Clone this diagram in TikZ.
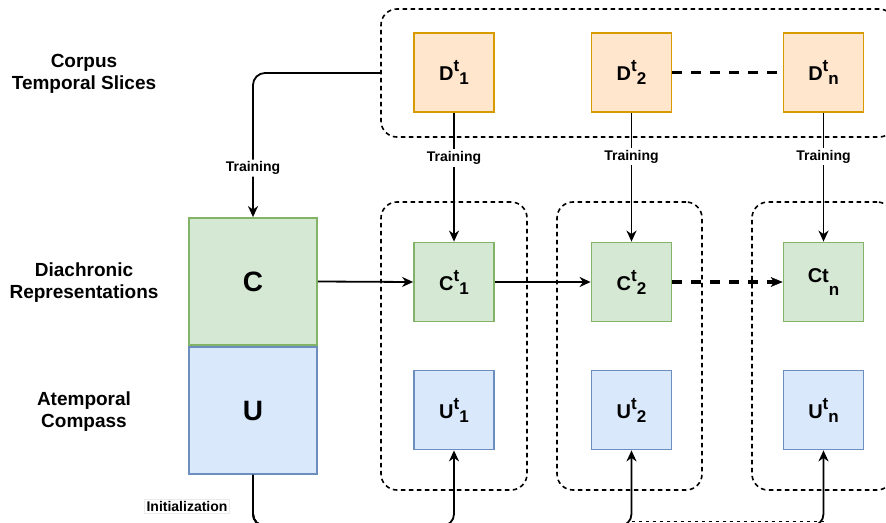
\documentclass[tikz,border=0pt]{standalone}
\usepackage{fontspec}
\setmainfont{Liberation Sans}
\usetikzlibrary{arrows.meta}
\definecolor{dfill}{HTML}{FFE6CC}
\definecolor{ddraw}{HTML}{D79B00}
\definecolor{cfill}{HTML}{D5E8D4}
\definecolor{cdraw}{HTML}{82B366}
\definecolor{ufill}{HTML}{DAE8FC}
\definecolor{udraw}{HTML}{6C8EBF}
\newcommand\mysupsub[3]{#1\raisebox{9pt}{\fontsize{17}{17}\selectfont #2}\raisebox{-4pt}{\fontsize{17}{17}\selectfont #3}}
\newcommand\mydropsub[3]{#1#2\raisebox{-13pt}{\fontsize{17}{17}\selectfont #3}}
\tikzset{
  box/.style={draw, line width=1.8pt, minimum width=80pt, minimum height=79pt, inner sep=0pt,
    font=\fontsize{20}{20}\selectfont\bfseries},
  dbox/.style={box, fill=dfill, draw=ddraw},
  cbox/.style={box, fill=cfill, draw=cdraw},
  ubox/.style={box, fill=ufill, draw=udraw},
  bigbox/.style={draw, line width=1.8pt, minimum width=128pt, minimum height=127pt, inner sep=0pt,
    font=\fontsize{28}{28}\selectfont\bfseries},
  grp/.style={draw, line width=1.6pt, dash pattern=on 4.5pt off 3.5pt, rounded corners=16pt, inner sep=0pt},
  conn/.style={line width=1.8pt, -{Stealth[length=11pt,width=10pt,inset=3.5pt]}},
  thickdash/.style={line width=3.2pt, dash pattern=on 10pt off 9pt},
  lbl/.style={fill=white, inner sep=2pt, font=\fontsize{14}{16}\selectfont\bfseries},
  side/.style={align=center, font=\fontsize{19}{22}\selectfont\bfseries},
}
\begin{document}
\begin{tikzpicture}[x=1pt,y=-1pt]
\useasboundingbox (0,0) rectangle (886,522);
\clip (0,0) rectangle (886,522);

% side labels
\node[side] (lcorpus) at (84,74) {Corpus\\Temporal Slices};
\node[side] (ldia) at (84,283) {Diachronic\\Representations};
\node[side] (latem) at (84,411.5) {Atemporal\\Compass};

% groups
\node[grp, minimum width=514pt, minimum height=128pt] (top) at (638,73) {};
\node[grp, minimum width=146pt, minimum height=288pt] (g1) at (454,346) {};
\node[grp, minimum width=145pt, minimum height=288pt] (g2) at (629.5,346) {};
\node[grp, minimum width=141pt, minimum height=288pt] (g3) at (822.5,346) {};

% compass
\node[bigbox, fill=cfill, draw=cdraw] (C) at (253,281.5) {C};
\node[bigbox, fill=ufill, draw=udraw] (U) at (253,410.5) {U};

% slices
\node[dbox] (D1) at (454,72.5) {\mysupsub{D}{t}{1}};
\node[dbox] (D2) at (631.5,72.5) {\mysupsub{D}{t}{2}};
\node[dbox] (Dn) at (823.5,72.5) {\mysupsub{D}{t}{n}};

\node[cbox] (C1) at (454,282) {\mysupsub{C}{t}{1}};
\node[cbox] (C2) at (631.5,282) {\mysupsub{C}{t}{2}};
\node[cbox] (Cn) at (823.5,282) {\mydropsub{C}{t}{n}};

\node[ubox] (U1) at (454,410) {\mysupsub{U}{t}{1}};
\node[ubox] (U2) at (631.5,410) {\mysupsub{U}{t}{2}};
\node[ubox] (Un) at (823.5,410) {\mysupsub{U}{t}{n}};

% training connectors
\draw[conn, rounded corners=12pt] (top.west) -| (C.north) node[lbl, pos=0.83] {Training};
\draw[conn] (D1.south) -- (C1.north) node[lbl, pos=0.35] {Training};
\draw[conn] (D2.south) -- (C2.north) node[lbl, pos=0.34] {Training};
\draw[conn] (Dn.south) -- (Cn.north) node[lbl, pos=0.34] {Training};

% slice chain
\draw[thickdash] (D2.east) -- (Dn.west);

% diachronic chain
\draw[conn] (C.east) -- (C1.west);
\draw[conn] (C1.east) -- (C2.west);
\draw[thickdash, -{Stealth[length=12pt,width=10pt,inset=3.5pt,line width=0.5pt]}] (C2.east) -- (Cn.west);

% initialization
\coordinate (bot) at (0,526);
\coordinate (botd) at (0,521.3);
\draw[conn, rounded corners=12pt] (U.south) |- (bot -| U1.south) -- (U1.south);
\draw[conn, rounded corners=12pt] (U.south) |- (bot -| U2.south) -- (U2.south);
\draw[conn, rounded corners=12pt] (U.south) |- (bot -| Un.south) -- (Un.south);
\draw[line width=1.4pt, dash pattern=on 3pt off 4pt] (botd -| U2.south) -- (botd -| Un.south);
\node[lbl, draw=black!8, line width=0.5pt] (init) at (187,506) {Initialization};
\end{tikzpicture}
\end{document}
